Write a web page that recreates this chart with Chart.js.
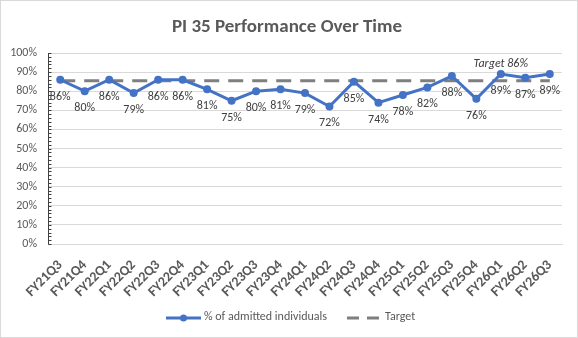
<!DOCTYPE html>
<html><head><meta charset="utf-8">
<script src="https://cdn.jsdelivr.net/npm/chart.js@4.4.1/dist/chart.umd.min.js"></script>
<style>html,body{margin:0;padding:0;background:#fff}#wrap{width:578px;height:338px;position:relative}canvas{display:block}</style>
</head><body><div id="wrap"><canvas id="c" width="578" height="338"></canvas></div>
<script>
const categories = ['FY21Q3','FY21Q4','FY22Q1','FY22Q2','FY22Q3','FY22Q4','FY23Q1','FY23Q2','FY23Q3','FY23Q4','FY24Q1','FY24Q2','FY24Q3','FY24Q4','FY25Q1','FY25Q2','FY25Q3','FY25Q4','FY26Q1','FY26Q2','FY26Q3'];
const performance = [86,80,86,79,86,86,81,75,80,81,79,72,85,74,78,82,88,76,89,87,89];
const target = [85.5,85.5,85.5,85.5,85.5,85.5,85.5,85.5,85.5,85.5,85.5,85.5,85.5,85.5,85.5,85.5,85.5,85.5,85.5,85.5,85.5];
const yTickValues = [0,10,20,30,40,50,60,70,80,90,100];
const titleText = 'PI 35 Performance Over Time';
const seriesNames = ['% of admitted individuals','Target'];
const targetLabelText = 'Target 86%';
const targetLabelIndex = 18;

const FONT = 'Carlito, Calibri, Lato, "Open Sans", sans-serif';
const BLUE = '#4472C4';
const GRAY = '#7F7F7F';

const drawPlugin = {
  id: 'excelLook',
  beforeDraw(chart) {
    const ctx = chart.ctx;
    ctx.save();
    ctx.fillStyle = '#fff';
    ctx.fillRect(0, 0, chart.width, chart.height);
    ctx.strokeStyle = '#D9D9D9';
    ctx.lineWidth = 1;
    ctx.strokeRect(0.5, 0.5, chart.width - 1, chart.height - 1);
    ctx.restore();
  },
  afterDraw(chart) {
    const ctx = chart.ctx;
    const xs = chart.scales.x, ys = chart.scales.y;
    ctx.save();
    // title
    ctx.fillStyle = '#595959';
    ctx.font = 'bold 19px ' + FONT;
    ctx.textAlign = 'center';
    ctx.textBaseline = 'middle';
    ctx.fillText(titleText, 287, 27);
    // y axis line and minor ticks
    const ax = Math.round(xs.left) + 0.5;
    ctx.strokeStyle = '#404040';
    ctx.lineWidth = 1;
    ctx.beginPath();
    ctx.moveTo(ax, ys.getPixelForValue(100));
    ctx.lineTo(ax, ys.getPixelForValue(0) + 0.5);
    for (let v = 0; v <= 100; v += 2) {
      const py = Math.round(ys.getPixelForValue(v)) + 0.5;
      ctx.moveTo(ax, py);
      ctx.lineTo(ax + 3, py);
    }
    ctx.stroke();
    // data labels
    ctx.fillStyle = '#404040';
    ctx.font = '12px ' + FONT;
    ctx.textAlign = 'center';
    ctx.textBaseline = 'middle';
    performance.forEach((v, i) => {
      const px = xs.getPixelForValue(i);
      const py = ys.getPixelForValue(v);
      ctx.fillText(v + '%', px, py + 17);
    });
    // target label
    ctx.font = 'italic 12px ' + FONT;
    ctx.fillText(targetLabelText, xs.getPixelForValue(targetLabelIndex), ys.getPixelForValue(target[targetLabelIndex]) - 17);
    // legend
    const ly = 318;
    ctx.strokeStyle = BLUE;
    ctx.lineWidth = 3;
    ctx.beginPath();
    ctx.moveTo(166, ly); ctx.lineTo(201, ly);
    ctx.stroke();
    ctx.fillStyle = BLUE;
    ctx.beginPath();
    ctx.arc(183.5, ly, 3.5, 0, Math.PI * 2);
    ctx.fill();
    ctx.fillStyle = '#595959';
    ctx.font = '12px ' + FONT;
    ctx.textAlign = 'left';
    ctx.fillText(seriesNames[0], 204, 317);
    ctx.strokeStyle = GRAY;
    ctx.beginPath();
    ctx.moveTo(347, ly); ctx.lineTo(359, ly);
    ctx.moveTo(367, ly); ctx.lineTo(379, ly);
    ctx.stroke();
    ctx.fillText(seriesNames[1], 385, 317);
    ctx.restore();
  }
};

new Chart(document.getElementById('c'), {
  type: 'line',
  data: {
    labels: categories,
    datasets: [
      {
        label: seriesNames[0],
        data: performance,
        borderColor: BLUE,
        backgroundColor: BLUE,
        borderWidth: 3,
        pointRadius: 4,
        pointBackgroundColor: BLUE,
        pointBorderColor: BLUE,
        pointBorderWidth: 0,
        tension: 0,
        fill: false
      },
      {
        label: seriesNames[1],
        data: target,
        borderColor: GRAY,
        backgroundColor: GRAY,
        borderWidth: 3,
        borderDash: [15, 9],
        pointRadius: 0,
        tension: 0,
        fill: false
      }
    ]
  },
  options: {
    responsive: false,
    animation: false,
    events: [],
    layout: { padding: { left: 0, right: 16, top: 53, bottom: 0 } },
    plugins: { legend: { display: false }, title: { display: false }, tooltip: { enabled: false } },
    scales: {
      x: {
        offset: true,
        grid: { display: false, drawTicks: false },
        border: { display: true, color: '#D9D9D9', width: 1 },
        ticks: {
          color: '#595959',
          font: { family: FONT, size: 14, weight: '600' },
          minRotation: 45, maxRotation: 45,
          padding: 13,
          autoSkip: false
        },
        afterFit(scale) { scale.height = 94; }
      },
      y: {
        min: 0, max: 100,
        afterBuildTicks(scale) { scale.ticks = yTickValues.map(v => ({ value: v })); },
        grid: { color: '#D9D9D9', lineWidth: 1, drawTicks: false },
        border: { display: false },
        ticks: {
          color: '#595959',
          font: { family: FONT, size: 12 },
          padding: 11,
          callback: v => v + '%'
        },
        afterFit(scale) { scale.width = 48; }
      }
    }
  },
  plugins: [drawPlugin]
});
</script>
</body></html>
